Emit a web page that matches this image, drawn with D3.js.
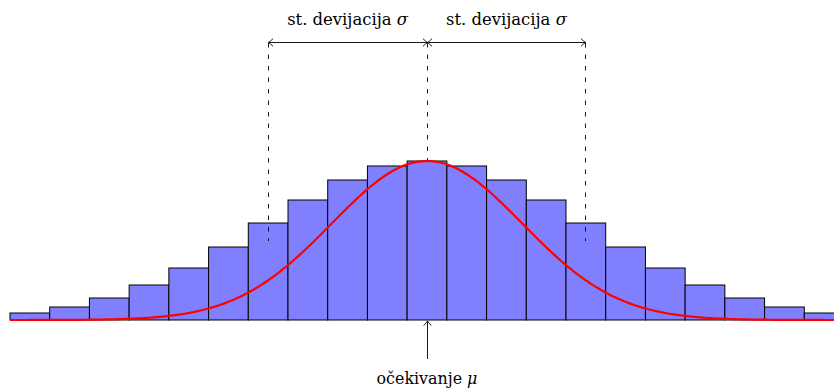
<!DOCTYPE html>
<html><head><meta charset="utf-8">
<script src="https://cdn.jsdelivr.net/npm/d3@7"></script>
<style>body{margin:0;background:#fff}svg{display:block}
.lbl{font-family:'DejaVu Serif','Liberation Serif',serif;fill:#000}</style>
</head><body>
<script>
// Data
const binCenters = [-10,-9,-8,-7,-6,-5,-4,-3,-2,-1,0,1,2,3,4,5,6,7,8,9,10];
const binCounts  = [7,13,22,35,52,73,97,120,140,154,159,154,140,120,97,73,52,35,22,13,7];
const curveMean = 0, curveSd = 2.4, curvePeak = 159;
const sigmaMarks = [-4, 0, 4];
const sigmaLabel = "st. devijacija ";
const meanLabel = "očekivanje ";

const W = 834, H = 388;
const svg = d3.select("body").append("svg").attr("width", W).attr("height", H);
const x = d3.scaleLinear().domain([-10.5, 10.5]).range([10, 844]);
const y = d3.scaleLinear().domain([0, 159]).range([320, 161]);
const bw = x(0.5) - x(-0.5);

const g = svg.append("g");
g.selectAll("rect").data(binCenters).join("rect")
  .attr("x", d => x(d) - bw/2).attr("width", bw)
  .attr("y", (d,i) => y(binCounts[i])).attr("height", (d,i) => y(0) - y(binCounts[i]))
  .attr("fill", "#8080ff").attr("stroke", "#000").attr("stroke-width", 1);

// curve
const xs = d3.range(-10.5, 10.3, 0.05);
const line = d3.line().x(d => x(d)).y(d => y(curvePeak * Math.exp(-((d-curveMean)**2)/(2*curveSd*curveSd))));
g.append("path").datum(xs).attr("d", line).attr("fill", "none").attr("stroke", "#ff0000").attr("stroke-width", 2.2);

// dashed lines
const dashBottom = {"-4": 241, "0": 160, "4": 241};
const px = m => Math.floor(x(m)) + 0.5;
sigmaMarks.forEach(m => {
  svg.append("line").attr("x1", px(m)).attr("x2", px(m))
    .attr("y1", 43).attr("y2", dashBottom[m])
    .attr("stroke", "#000").attr("stroke-width", 0.9).attr("stroke-dasharray", "4.5,7");
});

function arrowHead(px, py, dir, vertical) {
  const s = 4.5;
  let p;
  if (!vertical) {
    p = `M${px - dir*s},${py - s*0.85} Q${px - dir*s*0.3},${py - s*0.15} ${px},${py} Q${px - dir*s*0.3},${py + s*0.15} ${px - dir*s},${py + s*0.85}`;
  } else {
    p = `M${px - s*0.85},${py - dir*s} Q${px - s*0.15},${py - dir*s*0.3} ${px},${py} Q${px + s*0.15},${py - dir*s*0.3} ${px + s*0.85},${py - dir*s}`;
  }
  svg.append("path").attr("d", p).attr("fill", "none").attr("stroke", "#000").attr("stroke-width", 0.9);
}

// sigma arrows
const ay = 42.5;
[[-4,0],[0,4]].forEach(([a,b]) => {
  const x1 = px(a), x2 = px(b);
  svg.append("line").attr("x1", x1).attr("x2", x2).attr("y1", ay).attr("y2", ay)
    .attr("stroke", "#000").attr("stroke-width", 0.9);
  arrowHead(x1, ay, -1, false);
  arrowHead(x2, ay, 1, false);
});

function fitText(t, target) {
  const w = t.node().getComputedTextLength();
  const fs = +t.attr("font-size");
  t.attr("font-size", fs * target / w);
}

[[-4,0],[0,4]].forEach(([a,b]) => {
  const t = svg.append("text").attr("class", "lbl").attr("x", (x(a)+x(b))/2).attr("y", 25)
    .attr("text-anchor", "middle").attr("font-size", 15);
  t.append("tspan").text(sigmaLabel);
  t.append("tspan").attr("font-style", "italic").text("σ");
  fitText(t, 121);
});

const mx = px(0);
svg.append("line").attr("x1", mx).attr("x2", mx).attr("y1", 359).attr("y2", 321).attr("stroke", "#000").attr("stroke-width", 0.9);
arrowHead(mx, 321, -1, true);
const t2 = svg.append("text").attr("class", "lbl").attr("x", x(0)).attr("y", 384).attr("text-anchor", "middle")
  .attr("font-size", 15);
t2.append("tspan").text(meanLabel);
t2.append("tspan").attr("font-style", "italic").text("μ");
fitText(t2, 101);
</script>
</body></html>
